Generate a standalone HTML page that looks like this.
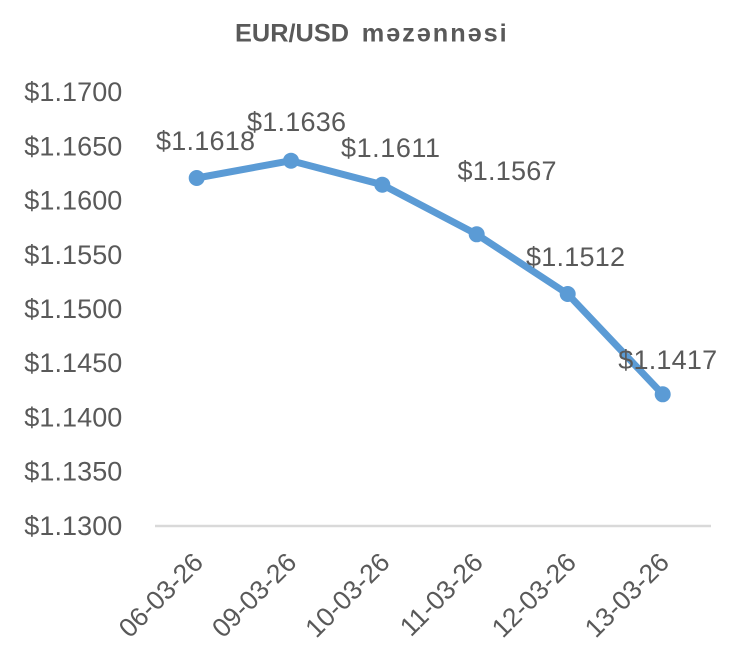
<!DOCTYPE html>
<html>
<head>
<meta charset="utf-8">
<style>
html,body{margin:0;padding:0;background:#fff;}
svg{display:block;}
text{font-family:"Liberation Sans",Arial,sans-serif;fill:#595959;}
</style>
</head>
<body>
<svg width="745" height="663" viewBox="0 0 745 663" xmlns="http://www.w3.org/2000/svg">
<rect width="745" height="663" fill="#fff"/>
<g font-size="25.3" font-weight="bold">
<text x="235" y="41.7" textLength="114" lengthAdjust="spacing">EUR/USD</text>
<text x="361.7" y="41.7" textLength="145" lengthAdjust="spacing">məzənnəsi</text>
</g>

<g font-size="27" text-anchor="end">
<text x="122.3" y="101.2" textLength="98" lengthAdjust="spacing">$1.1700</text>
<text x="122.3" y="155.4" textLength="98" lengthAdjust="spacing">$1.1650</text>
<text x="122.3" y="209.6" textLength="98" lengthAdjust="spacing">$1.1600</text>
<text x="122.3" y="263.8" textLength="98" lengthAdjust="spacing">$1.1550</text>
<text x="122.3" y="318.0" textLength="98" lengthAdjust="spacing">$1.1500</text>
<text x="122.3" y="372.2" textLength="98" lengthAdjust="spacing">$1.1450</text>
<text x="122.3" y="426.4" textLength="98" lengthAdjust="spacing">$1.1400</text>
<text x="122.3" y="480.6" textLength="98" lengthAdjust="spacing">$1.1350</text>
<text x="122.3" y="534.8" textLength="98" lengthAdjust="spacing">$1.1300</text>
</g>

<line x1="155" y1="526" x2="711" y2="526" stroke="#d9d9d9" stroke-width="2.6"/>

<polyline points="196.7,178 291,160.7 382.3,184.7 476.7,234.3 567.7,294 662.7,394.3" fill="none" stroke="#5b9bd5" stroke-width="7" stroke-linejoin="round" stroke-linecap="round"/>
<g fill="#5b9bd5">
<circle cx="196.7" cy="178" r="8"/>
<circle cx="291" cy="160.7" r="8"/>
<circle cx="382.3" cy="184.7" r="8"/>
<circle cx="476.7" cy="234.3" r="8"/>
<circle cx="567.7" cy="294" r="8"/>
<circle cx="662.7" cy="394.3" r="8"/>
</g>

<g font-size="27" text-anchor="middle">
<text x="205.5" y="150" textLength="99" lengthAdjust="spacing">$1.1618</text>
<text x="296.5" y="131" textLength="99" lengthAdjust="spacing">$1.1636</text>
<text x="390.5" y="157" textLength="99" lengthAdjust="spacing">$1.1611</text>
<text x="507" y="180" textLength="99" lengthAdjust="spacing">$1.1567</text>
<text x="575.5" y="266" textLength="99" lengthAdjust="spacing">$1.1512</text>
<text x="667.7" y="369" textLength="99" lengthAdjust="spacing">$1.1417</text>
</g>

<g font-size="26.5" text-anchor="end">
<text transform="translate(204.7,564) rotate(-45)">06-03-26</text>
<text transform="translate(298,564) rotate(-45)">09-03-26</text>
<text transform="translate(391.3,564) rotate(-45)">10-03-26</text>
<text transform="translate(484.5,564) rotate(-45)">11-03-26</text>
<text transform="translate(577.7,564) rotate(-45)">12-03-26</text>
<text transform="translate(670.7,564) rotate(-45)">13-03-26</text>
</g>
</svg>
</body>
</html>
